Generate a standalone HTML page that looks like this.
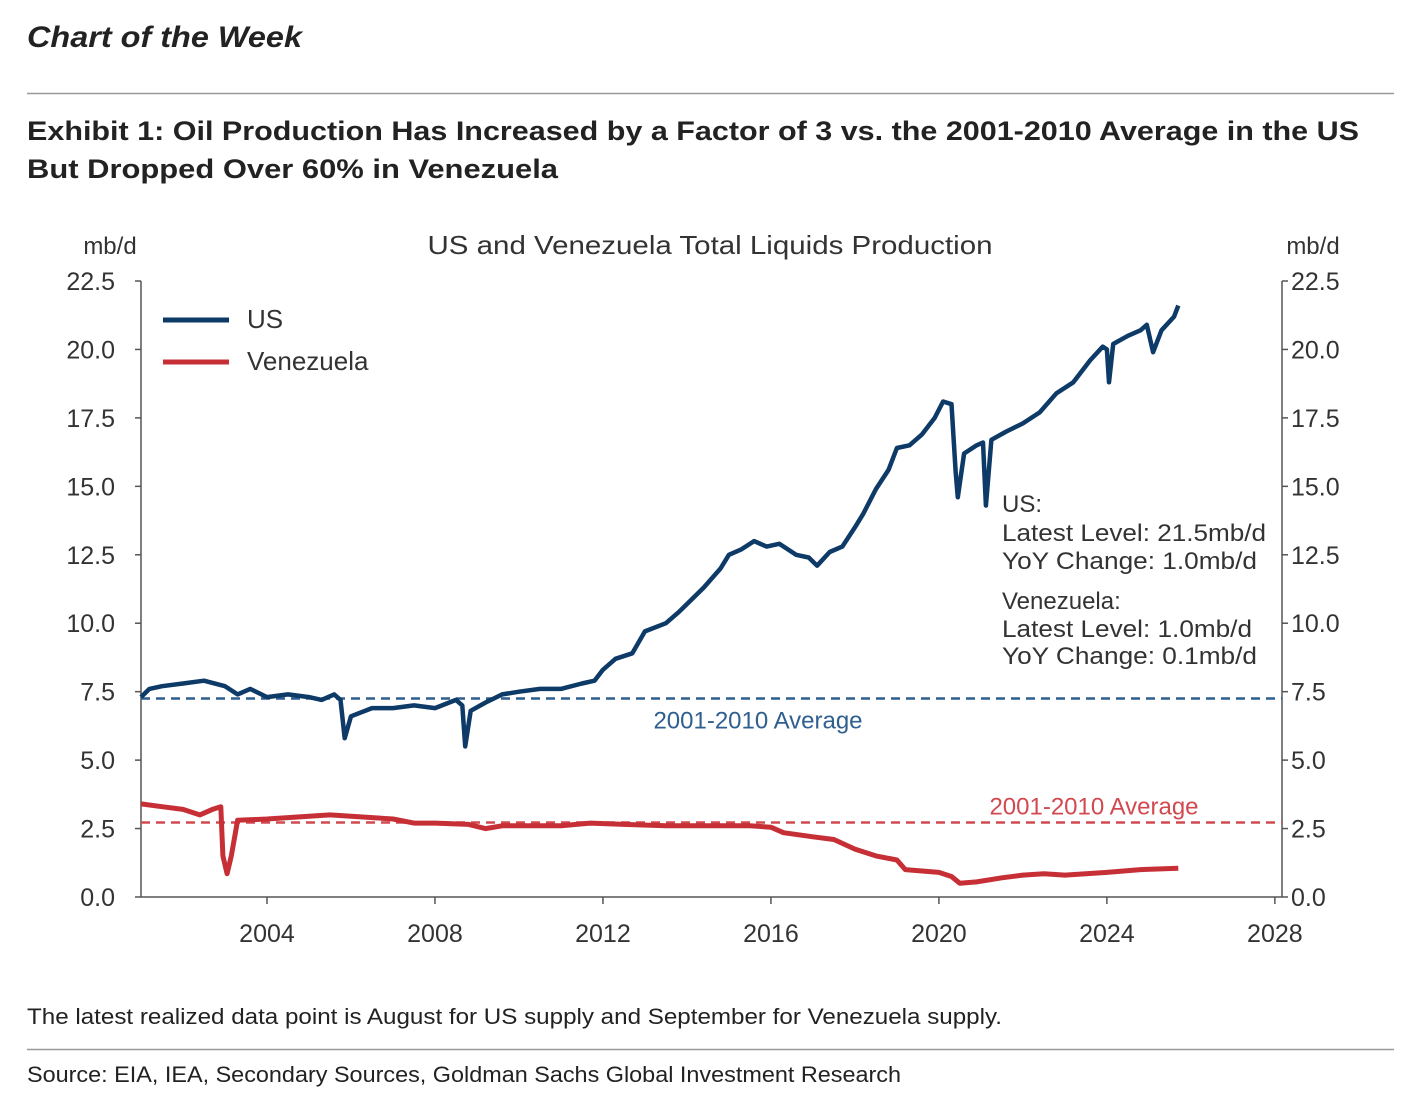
<!DOCTYPE html>
<html><head><meta charset="utf-8"><style>
html,body{margin:0;padding:0;background:#fff;}
svg{display:block;font-family:"Liberation Sans",sans-serif;}
</style></head><body>
<svg id="c" width="1410" height="1102" viewBox="0 0 1410 1102">
<text x="27" y="47" font-size="30" font-weight="bold" font-style="italic" fill="#222" textLength="275" lengthAdjust="spacingAndGlyphs">Chart of the Week</text>
<line x1="27" y1="93.5" x2="1394" y2="93.5" stroke="#999" stroke-width="1.5"/>
<text x="27" y="140" font-size="27" font-weight="bold" fill="#222" textLength="1332" lengthAdjust="spacingAndGlyphs">Exhibit 1: Oil Production Has Increased by a Factor of 3 vs. the 2001-2010 Average in the US</text>
<text x="27" y="178" font-size="27" font-weight="bold" fill="#222" textLength="531" lengthAdjust="spacingAndGlyphs">But Dropped Over 60% in Venezuela</text>
<text x="710" y="254" font-size="26" fill="#333" text-anchor="middle" textLength="565" lengthAdjust="spacingAndGlyphs">US and Venezuela Total Liquids Production</text>
<text x="110" y="254" font-size="24" fill="#333" text-anchor="middle">mb/d</text>
<text x="1313" y="254" font-size="24" fill="#333" text-anchor="middle">mb/d</text>
<g id="axes"></g>
<g id="series"></g>
<g>
<line x1="163" y1="320" x2="229" y2="320" stroke="#0d3a67" stroke-width="5"/>
<text x="247" y="328" font-size="26" fill="#333">US</text>
<line x1="163" y1="362" x2="229" y2="362" stroke="#c62f35" stroke-width="5"/>
<text x="247" y="370" font-size="26" fill="#333">Venezuela</text>
</g>
<g font-size="24" fill="#333">
<text x="1002" y="512">US:</text>
<text x="1002" y="541" textLength="264" lengthAdjust="spacingAndGlyphs">Latest Level: 21.5mb/d</text>
<text x="1002" y="569" textLength="255" lengthAdjust="spacingAndGlyphs">YoY Change: 1.0mb/d</text>
<text x="1002" y="609">Venezuela:</text>
<text x="1002" y="637" textLength="250" lengthAdjust="spacingAndGlyphs">Latest Level: 1.0mb/d</text>
<text x="1002" y="664" textLength="255" lengthAdjust="spacingAndGlyphs">YoY Change: 0.1mb/d</text>
</g>
<text x="27" y="1024" font-size="22" fill="#222" textLength="975" lengthAdjust="spacingAndGlyphs">The latest realized data point is August for US supply and September for Venezuela supply.</text>
<line x1="27" y1="1049.5" x2="1394" y2="1049.5" stroke="#999" stroke-width="1.5"/>
<text x="27" y="1082" font-size="22" fill="#222" textLength="874" lengthAdjust="spacingAndGlyphs">Source: EIA, IEA, Secondary Sources, Goldman Sachs Global Investment Research</text>
</svg>
<script>
const yTicks=[0,2.5,5,7.5,10,12.5,15,17.5,20,22.5];
const yTickLabels=["0.0","2.5","5.0","7.5","10.0","12.5","15.0","17.5","20.0","22.5"];
const xTicks=[2004,2008,2012,2016,2020,2024,2028];
const usDates=[2001.0,2001.2,2001.5,2002.0,2002.5,2003.0,2003.3,2003.6,2004.0,2004.5,2005.0,2005.3,2005.6,2005.75,2005.85,2006.0,2006.5,2007.0,2007.5,2008.0,2008.5,2008.65,2008.72,2008.85,2009.2,2009.6,2010.0,2010.5,2011.0,2011.5,2011.8,2012.0,2012.3,2012.7,2013.0,2013.5,2013.8,2014.0,2014.4,2014.8,2015.0,2015.3,2015.6,2015.9,2016.2,2016.6,2016.9,2017.1,2017.4,2017.7,2018.0,2018.2,2018.5,2018.8,2019.0,2019.3,2019.6,2019.9,2020.1,2020.3,2020.4,2020.45,2020.6,2020.9,2021.05,2021.12,2021.25,2021.6,2022.0,2022.4,2022.8,2023.2,2023.6,2023.9,2024.0,2024.05,2024.15,2024.5,2024.8,2024.95,2025.1,2025.3,2025.6,2025.7];
const usValues=[7.3,7.6,7.7,7.8,7.9,7.7,7.4,7.6,7.3,7.4,7.3,7.2,7.4,7.2,5.8,6.6,6.9,6.9,7.0,6.9,7.2,7.0,5.5,6.8,7.1,7.4,7.5,7.6,7.6,7.8,7.9,8.3,8.7,8.9,9.7,10.0,10.4,10.7,11.3,12.0,12.5,12.7,13.0,12.8,12.9,12.5,12.4,12.1,12.6,12.8,13.5,14.0,14.9,15.6,16.4,16.5,16.9,17.5,18.1,18.0,15.5,14.6,16.2,16.5,16.6,14.3,16.7,17.0,17.3,17.7,18.4,18.8,19.6,20.1,20.0,18.8,20.2,20.5,20.7,20.9,19.9,20.7,21.2,21.6];
const veDates=[2001.0,2001.5,2002.0,2002.4,2002.7,2002.9,2002.95,2003.05,2003.15,2003.3,2004.0,2005.0,2005.5,2006.0,2007.0,2007.5,2008.0,2008.8,2009.2,2009.6,2010.5,2011.0,2011.7,2012.5,2013.5,2014.5,2015.5,2016.0,2016.3,2017.0,2017.5,2018.0,2018.5,2019.0,2019.2,2019.6,2020.0,2020.3,2020.5,2020.9,2021.5,2022.0,2022.5,2023.0,2024.0,2024.8,2025.7];
const veValues=[3.4,3.3,3.2,3.0,3.2,3.3,1.5,0.85,1.5,2.8,2.85,2.95,3.0,2.95,2.85,2.7,2.7,2.65,2.5,2.6,2.6,2.6,2.7,2.65,2.6,2.6,2.6,2.55,2.35,2.2,2.1,1.75,1.5,1.35,1.0,0.95,0.9,0.75,0.5,0.55,0.7,0.8,0.85,0.8,0.9,1.0,1.05];
const usAverage=7.25, veAverage=2.72;
const NS="http://www.w3.org/2000/svg";
const X0=141,X1=1282,Y0=897,Y1=281,xMin=2001,xMax=2028.17,yMax=22.5;
const xs=v=>X0+(v-xMin)/(xMax-xMin)*(X1-X0);
const ys=v=>Y0-v/yMax*(Y0-Y1);
function mk(tag,attrs,parent){const e=document.createElementNS(NS,tag);for(const k in attrs)e.setAttribute(k,attrs[k]);parent.appendChild(e);return e;}
const ax=document.getElementById('axes');
let e=mk('line',{x1:X0,y1:Y1,x2:X0,y2:Y0,stroke:'#555','stroke-width':1.5},ax);


e=mk('line',{x1:X1,y1:Y1,x2:X1,y2:Y0,stroke:'#555','stroke-width':1.5},ax);


e=mk('line',{x1:X0,y1:Y0,x2:X1,y2:Y0,stroke:'#555','stroke-width':1.5},ax);


yTicks.forEach((t,i)=>{const y=ys(t);
 let a=mk('line',{x1:X0-6,y1:y,x2:X0,y2:y,stroke:'#555','stroke-width':1.5},ax);
 
 
 a=mk('line',{x1:X1,y1:y,x2:X1+6,y2:y,stroke:'#555','stroke-width':1.5},ax);
 
 
 let tx=mk('text',{x:X0-26,y:y+9,'font-size':25,fill:'#333','text-anchor':'end'},ax);tx.textContent=yTickLabels[i];
 
 
 tx=mk('text',{x:X1+9,y:y+9,'font-size':25,fill:'#333'},ax);tx.textContent=yTickLabels[i];
 
 
});
xTicks.forEach(t=>{const x=xs(t);
 let a=mk('line',{x1:x,y1:Y0,x2:x,y2:Y0+7,stroke:'#555','stroke-width':1.5},ax);
 
 
 let tx=mk('text',{x:x,y:Y0+45,'font-size':25,fill:'#333','text-anchor':'middle'},ax);tx.textContent=String(t);
 
 
});
const sg=document.getElementById('series');
let l=mk('line',{x1:X0,y1:ys(usAverage),x2:X1,y2:ys(usAverage),stroke:'#2f5f8f','stroke-width':2.5,'stroke-dasharray':'9,6'},sg);


let t=mk('text',{x:758,y:ys(usAverage)+30,'font-size':24,fill:'#2f5f8f','text-anchor':'middle'},sg);t.textContent='2001-2010 Average';


l=mk('line',{x1:X0,y1:ys(veAverage),x2:X1,y2:ys(veAverage),stroke:'#d04a50','stroke-width':2.5,'stroke-dasharray':'9,6'},sg);


t=mk('text',{x:1094,y:ys(veAverage)-8,'font-size':24,fill:'#d04a50','text-anchor':'middle'},sg);t.textContent='2001-2010 Average';


function path(d,v){return d.map((x,i)=>(i?'L':'M')+xs(x).toFixed(1)+','+ys(v[i]).toFixed(1)).join('');}
let p=mk('path',{d:path(veDates,veValues),fill:'none',stroke:'#c62f35','stroke-width':5,'stroke-linejoin':'round'},sg);


p=mk('path',{d:path(usDates,usValues),fill:'none',stroke:'#0d3a67','stroke-width':4.5,'stroke-linejoin':'round'},sg);


</script>
</body></html>
